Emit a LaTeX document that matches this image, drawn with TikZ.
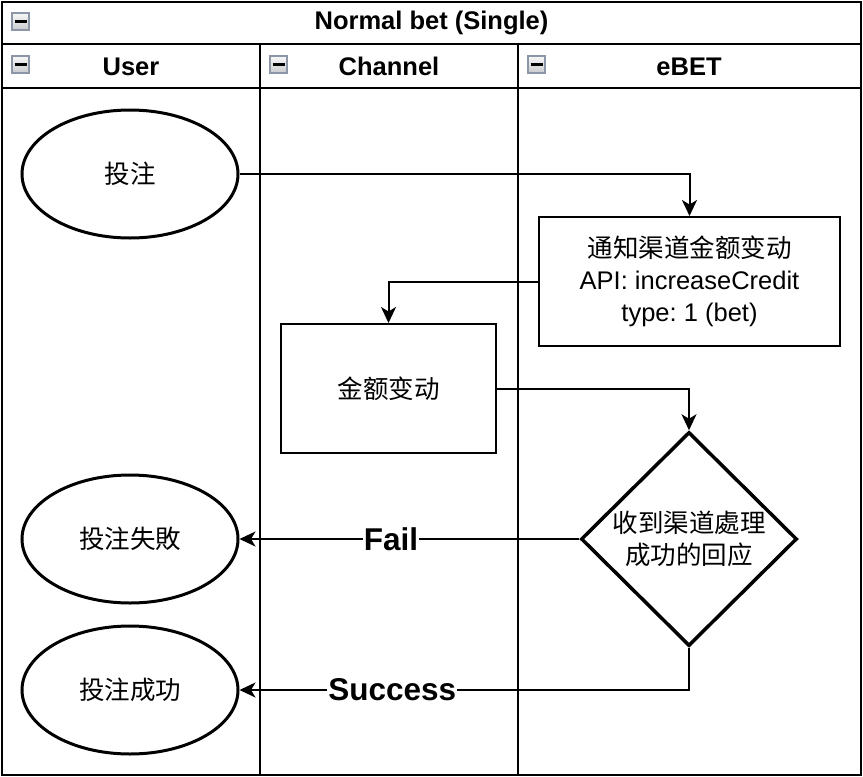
\documentclass[tikz,border=0pt]{standalone}
\usepackage{fontspec}
\setmainfont{Liberation Sans}
\newfontfamily\cjk{Noto Sans CJK SC}
\usetikzlibrary{shapes.geometric,arrows.meta}
\definecolor{iconedge}{RGB}{140,150,166}
\definecolor{icontop}{RGB}{248,248,248}
\definecolor{iconbot}{RGB}{200,202,206}
\tikzset{
  every node/.style={font=\fontsize{25.5}{32}\selectfont, text=black},
  lane/.style={line width=2.5pt, draw=black},
  hdr/.style={font=\bfseries\fontsize{25.5}{32}\selectfont},
  icon/.style={rectangle, minimum size=17pt, inner sep=0pt, draw=iconedge, line width=2pt,
    top color=icontop, bottom color=iconbot,
    path picture={\draw[line width=2.5pt,black] ([xshift=-6pt]path picture bounding box.center) -- ([xshift=6pt]path picture bounding box.center);}},
  oval/.style={ellipse, draw, line width=3pt, minimum width=216pt, minimum height=128pt, inner sep=0pt, font=\cjk\fontsize{25.5}{32}\selectfont},
  stepbox/.style={rectangle, draw, line width=2pt, inner sep=0pt, align=center},
  decision/.style={diamond, draw, line width=3.5pt, minimum width=216pt, minimum height=214pt, inner sep=0pt, align=center, font=\cjk\fontsize{25.5}{32}\selectfont},
  arr/.style={line width=2pt, -{Stealth[length=16pt, width=15pt, inset=4.5pt]}},
  lbl/.style={fill=white, inner sep=1pt, font=\bfseries\fontsize{31.5}{36}\selectfont}
}
\begin{document}
\frenchspacing
\begin{tikzpicture}[x=1pt, y=-1pt]
\useasboundingbox (0,0) rectangle (863,777);
% pool frame
\draw[lane] (2,2) rectangle (861,775);
\draw[lane] (2,44) -- (861,44);
\draw[lane] (2,88) -- (861,88);
\draw[lane] (260,44) -- (260,775);
\draw[lane] (518,44) -- (518,775);
% headers
\node[hdr] (title) at (431.5,23) {Normal bet (Single)};
\node[hdr] (huser) at (131,66.5) {User};
\node[hdr] (hchan) at (389,66.5) {Channel};
\node[hdr] (hebet) at (689,66.5) {eBET};
\node[icon] (i0) at (20.5,21.5) {};
\node[icon] (i1) at (20.5,64.5) {};
\node[icon] (i2) at (278.5,64.5) {};
\node[icon] (i3) at (536.5,64.5) {};
% shapes
\node[oval] (e1) at (130,174) {投注};
\node[stepbox, minimum width=301pt, minimum height=129pt] (b1) at (689.5,281.5)
  {{\cjk 通知渠道金额变动}\\API: increaseCredit\\type: 1 (bet)};
\node[stepbox, minimum width=215pt, minimum height=129pt, font=\cjk\fontsize{25.5}{32}\selectfont] (b2) at (388.5,388.5) {金额变动};
\node[decision] (d) at (689,539) {收到渠道處理\\成功的回应};
\node[oval] (e2) at (130,539) {投注失敗};
\node[oval] (e3) at (130,690) {投注成功};
% connectors
\draw[arr] (e1.east) -| (b1.north);
\draw[arr] (b1.west) -| (b2.north);
\draw[arr] (b2.east) -| (d.north);
\draw[arr] (d.west) -- node[lbl, pos=0.554] {Fail} (e2.east);
\draw[arr] (d.south) |- node[lbl, pos=0.83] {Success} (e3.east);
\end{tikzpicture}
\end{document}
